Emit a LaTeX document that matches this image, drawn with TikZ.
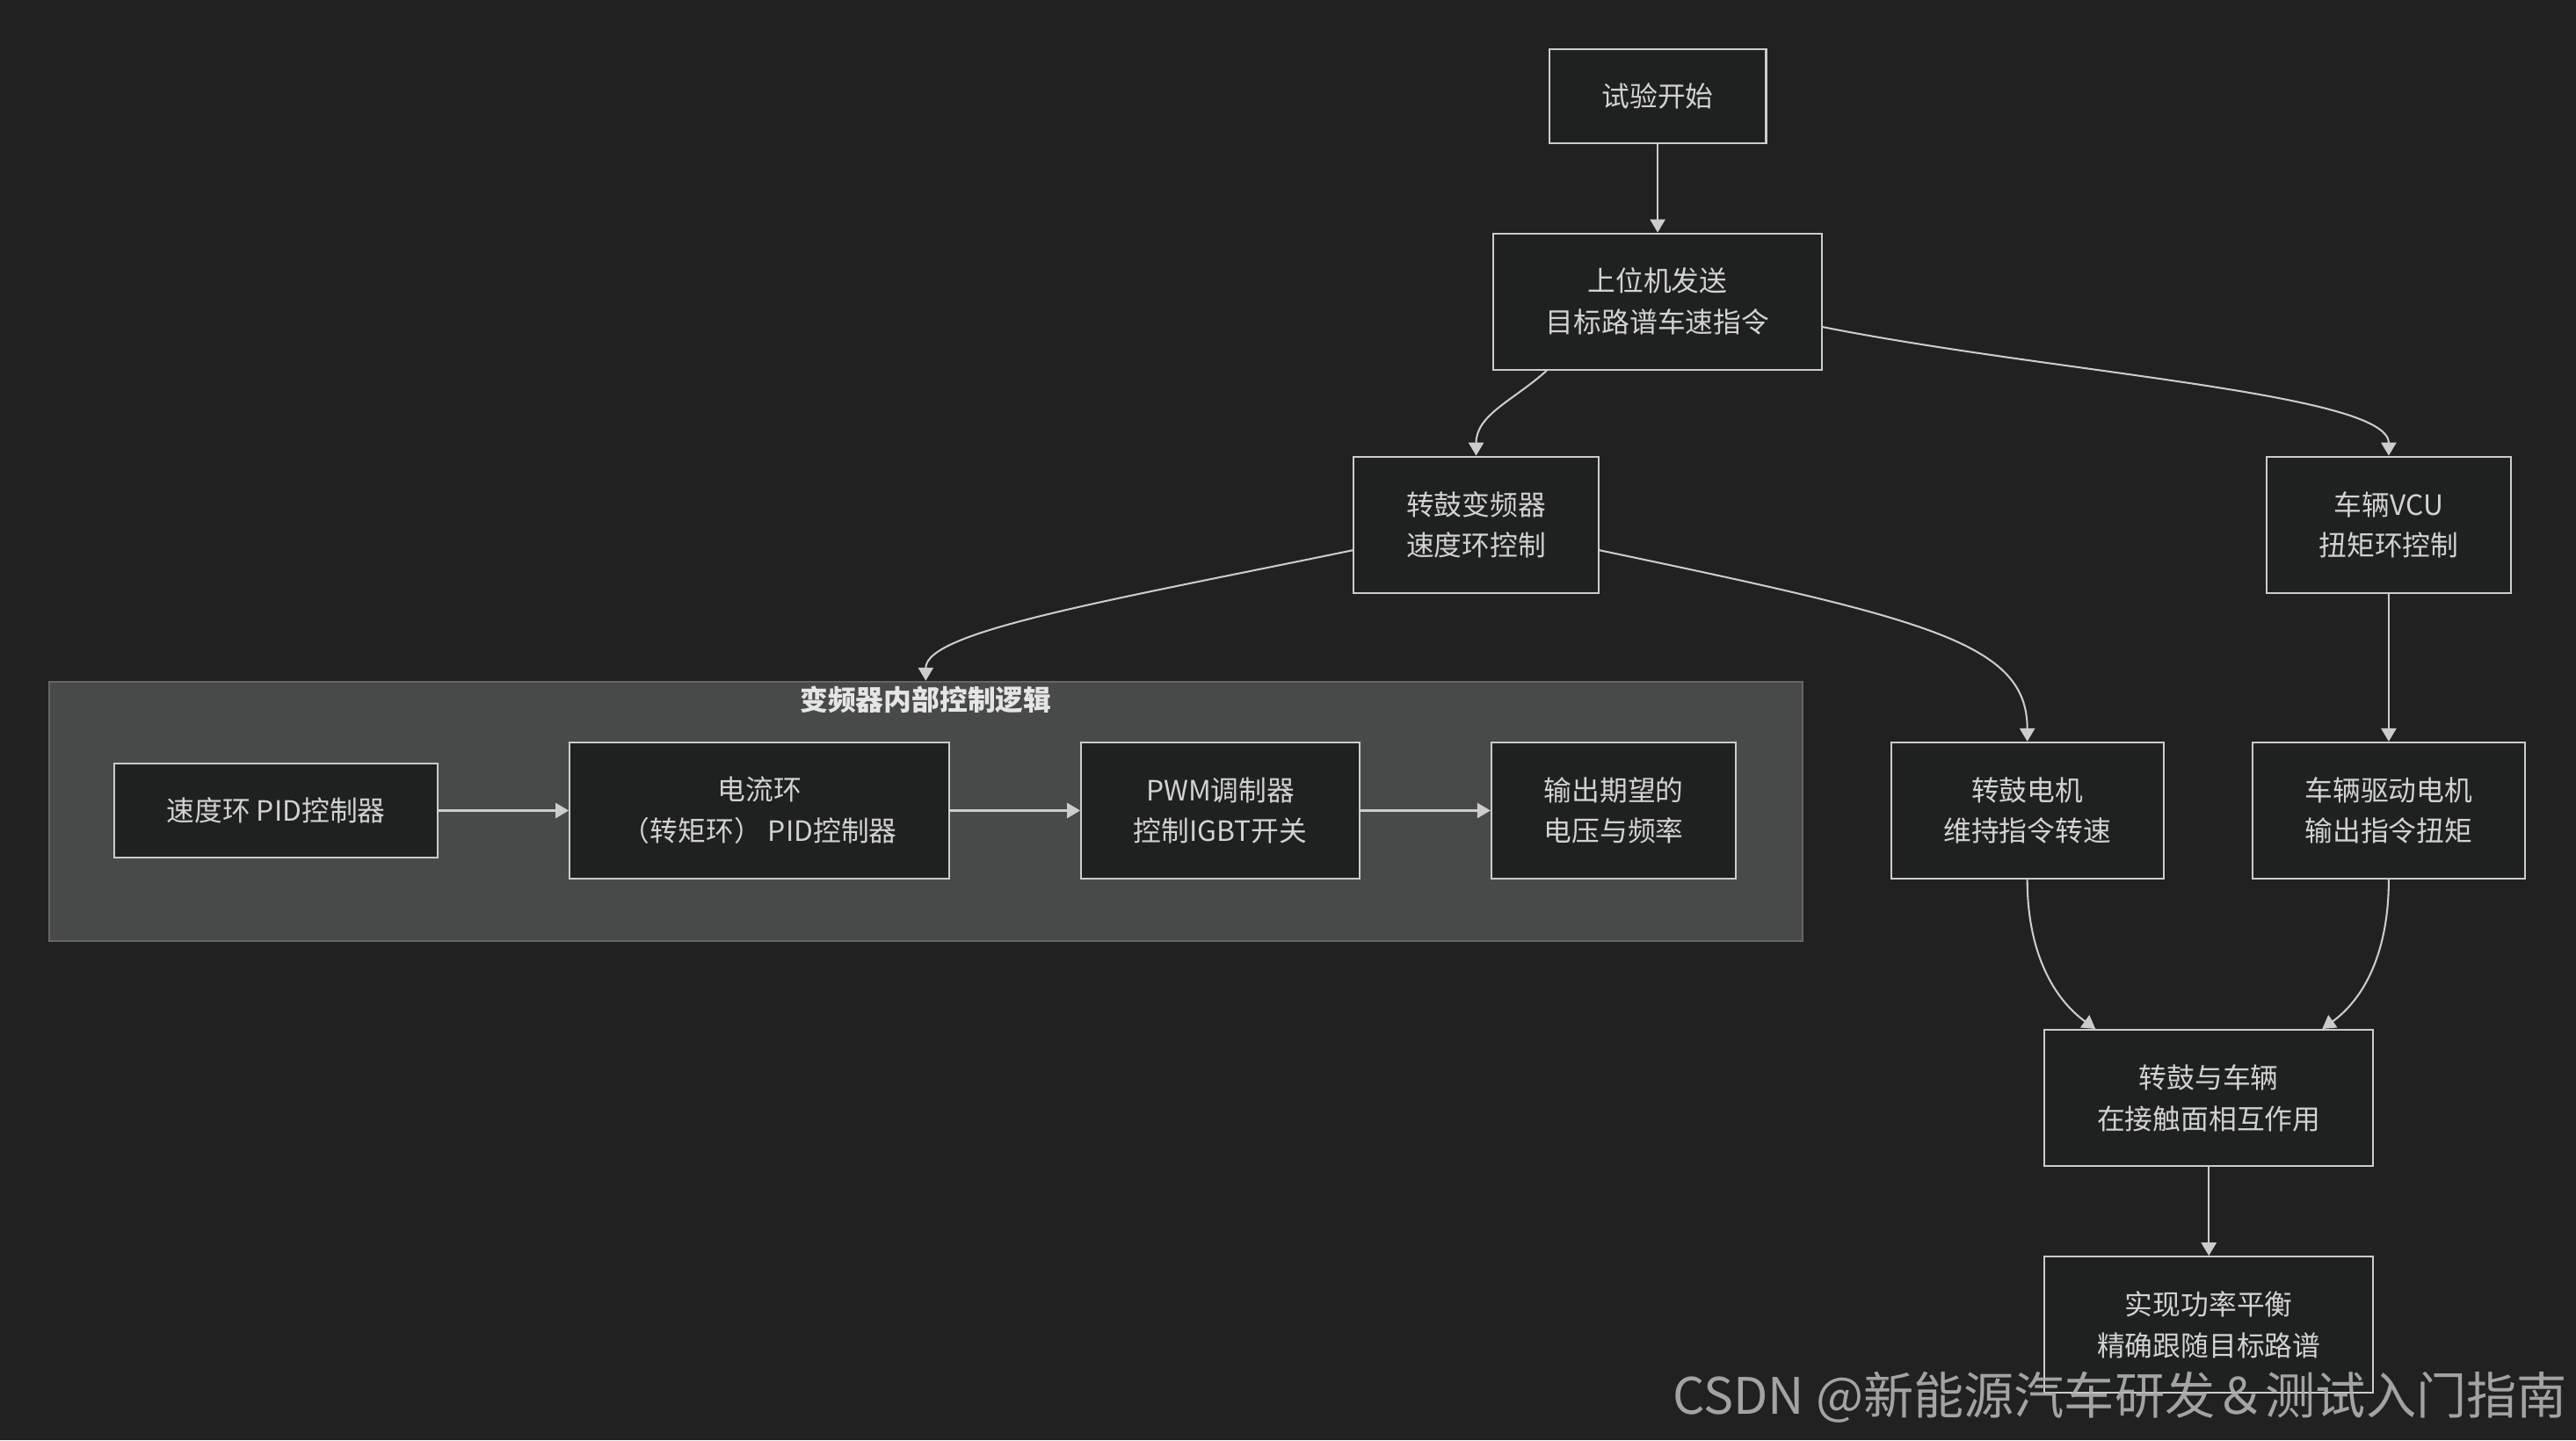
\documentclass[tikz,border=0pt]{standalone}
\usepackage{fontspec}
\setmainfont{Noto Sans CJK SC}
\usepackage{xcolor}
\usepackage{tikz}
\usetikzlibrary{arrows.meta,positioning}

\definecolor{canvas}{RGB}{33,33,33}
\definecolor{boxfill}{RGB}{31,32,32}
\definecolor{boxline}{RGB}{204,204,204}
\definecolor{panelfill}{RGB}{72,74,73}
\definecolor{panelline}{RGB}{102,102,102}
\definecolor{inktext}{RGB}{210,210,210}
\definecolor{wmgray}{RGB}{178,178,178}

\begin{document}
\begin{tikzpicture}[
  x=0.5pt,y=-0.5pt,
  node distance=27pt and 39.5pt,
  box/.style={draw=boxline,fill=boxfill,line width=0.55pt,align=center,
    text=inktext,font=\fontsize{8.5}{12.5}\selectfont,inner xsep=16pt,
    minimum height=41.5pt},
  panel/.style={draw=panelline,fill=panelfill,line width=0.55pt,inner sep=0pt},
  arrow/.style={-{Triangle[length=4pt,width=4.6pt]},draw=boxline,line width=0.55pt}
]
\fill[canvas,use as bounding box] (0,0) rectangle (1568,877);

% inverter group
\node[panel,minimum width=533.5pt,minimum height=79pt] (logic) at (563.5,494) {};
\node[below=0.5pt of logic.north,inner sep=1pt,text=white!90!black,
  font=\bfseries\fontsize{8.5}{10}\selectfont] (logictitle) {变频器内部控制逻辑};

\node[box,minimum height=28.5pt] (start) at (1009,58.5) {试验开始};
\node[box,below=of start] (host) {上位机发送\\目标路谱车速指令};
\node[box] (drive) at (898.5,319.5) {转鼓变频器\\速度环控制};
\node[box] (vcu) at (1454,319.5) {车辆VCU\\扭矩环控制};

\node[box,minimum height=28.5pt] (speedpid) at (168,493.5) {速度环 PID控制器};
\node[box,right=of speedpid] (currentpid) {电流环\\（转矩环） PID控制器};
\node[box,right=of currentpid] (pwm) {PWM调制器\\控制IGBT开关};
\node[box,right=of pwm] (output) {输出期望的\\电压与频率};

\node[box] (drummotor) at (1234,493.5) {转鼓电机\\维持指令转速};
\node[box] (carmotor) at (1454,493.5) {车辆驱动电机\\输出指令扭矩};
\node[box] (contact) at (1344.5,668.5) {转鼓与车辆\\在接触面相互作用};
\node[box,below=of contact] (result) {实现功率平衡\\精确跟随目标路谱};

\draw[arrow] (start) -- (host);
\draw[arrow] ([xshift=16.5pt]host.south west) .. controls +(-20,18) and +(0,-25) .. (drive.north);
\draw[arrow] ([yshift=-7.75pt]host.east) .. controls +(141,28) and +(0,-38) .. (vcu.north);
\draw[arrow] ([yshift=-7.75pt]drive.west) .. controls +(-150,31) and +(0,-30) .. (logic.north);
\draw[arrow] ([yshift=-7.75pt]drive.east) .. controls +(200,42) and +(0,-60) .. (drummotor.north);
\draw[arrow] (vcu) -- (carmotor);

\draw[arrow] (speedpid) -- (currentpid);
\draw[arrow] (currentpid) -- (pwm);
\draw[arrow] (pwm) -- (output);

\draw[arrow] (drummotor.south) .. controls +(0,45) and +(-25,-18) .. ([xshift=-34.5pt]contact.north);
\draw[arrow] (carmotor.south) .. controls +(0,45) and +(25,-18) .. ([xshift=34.5pt]contact.north);
\draw[arrow] (contact) -- (result);

\node[anchor=east,inner sep=0pt,text=wmgray,opacity=0.9,
  font=\fontsize{15.3}{17}\selectfont] (watermark) at (1563,851)
  {CSDN @新能源汽车研发＆测试入门指南};
\end{tikzpicture}
\end{document}
